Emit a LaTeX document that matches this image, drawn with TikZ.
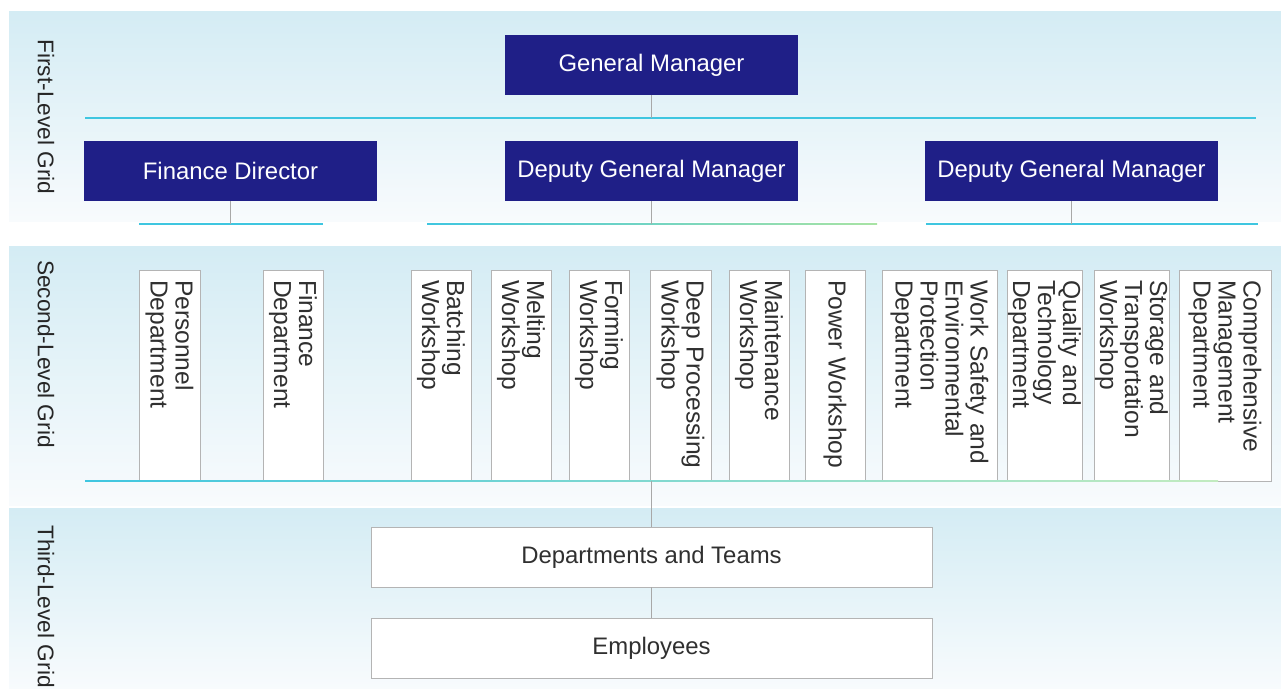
\documentclass[tikz,border=0pt]{standalone}
\usepackage{fontspec}
\setmainfont{Liberation Sans}
\definecolor{navy}{HTML}{1F1F87}
\definecolor{bandtop}{HTML}{D4ECF4}
\definecolor{bandbot}{HTML}{F8FBFD}
\definecolor{linecyan}{HTML}{3FC6E0}
\definecolor{linegreen}{HTML}{A8E3A4}
\definecolor{linkgrey}{HTML}{A8A8A8}
\definecolor{boxgrey}{HTML}{B4B4B4}
\definecolor{textgrey}{HTML}{303030}
\tikzset{
  band/.style={top color=bandtop, bottom color=bandbot, draw=none},
  gridlabel/.style={rotate=-90, text=black!85, font=\fontsize{12.9}{14}\selectfont},
  headbox/.style={fill=navy, text=white, minimum width=5.86cm, minimum height=1.2cm,
    inner sep=0pt, font=\fontsize{13.6}{16}\selectfont},
  unitbox/.style={draw=boxgrey, fill=white, rotate=-90, text=textgrey,
    minimum width=4.22cm, minimum height=#1, text width=3.82cm, inner xsep=0.2cm,
    inner ysep=0pt, align=left, font=\fontsize{14}{14.2}\selectfont},
  teambox/.style={draw=boxgrey, fill=white, text=textgrey, minimum width=11.22cm,
    minimum height=1.2cm, inner sep=0pt, font=\fontsize{13.6}{16}\selectfont},
  bus/.style={draw=linecyan, line width=0.8pt},
  link/.style={draw=linkgrey, line width=0.9pt}
}
\begin{document}
\begin{tikzpicture}[x=0.02cm,y=-0.02cm]
\useasboundingbox[fill=white] (0,0) rectangle (1281,689);

% bands
\shade[band] (9,12) rectangle (1281,222);
\shade[band] (9,247) rectangle (1281,505);
\shade[band] (9,508) rectangle (1281,689);

\node[gridlabel] (lab1) at (46,117) {First-Level Grid};
\node[gridlabel] (lab2) at (46,354) {Second-Level Grid};
\node[gridlabel, anchor=west] (lab3) at (46,519) {Third-Level Grid};

% first level
\node[headbox] (gm) at (651.5,65) {\raisebox{-2.5pt}{General Manager}};
\node[headbox] (fd) at (230.5,171) {Finance Director};
\node[headbox] (dgma) at (651.5,171) {\raisebox{-2.5pt}{Deputy General Manager}};
\node[headbox] (dgmb) at (1071.5,171) {Deputy General Manager};

\coordinate (bus1) at (85,118);
\coordinate (bus2) at (85,224);
\coordinate (bus3) at (85,481);
\draw[bus] (bus1) -- (1256,118);
\draw[bus] (139,224) -- (323,224);
\shade[left color=linecyan, right color=linegreen] (427,223.2) rectangle (877,224.8);
\draw[bus] (926,224) -- (1258,224);

\draw[link] (gm.south) -- (gm.south |- bus1);
\draw[link] (fd.south) -- (fd.south |- bus2);
\draw[link] (dgma.south) -- (dgma.south |- bus2);
\draw[link] (dgmb.south) -- (dgmb.south |- bus2);

% second level
\node[unitbox=1.22cm] (personnel) at (169.5,375.5) {Personnel\\Department};
\node[unitbox=1.2cm] (finance) at (293,375.5) {Finance\\Department};
\node[unitbox=1.2cm] (batching) at (441,375.5) {Batching\\Workshop};
\node[unitbox=1.2cm] (melting) at (521,375.5) {Melting\\Workshop};
\node[unitbox=1.2cm] (forming) at (599,375.5) {Forming\\Workshop};
\node[unitbox=1.22cm] (deep) at (680.5,375.5) {Deep Processing\\Workshop};
\node[unitbox=1.2cm] (maint) at (759,375.5) {Maintenance\\Workshop};
\node[unitbox=1.2cm] (power) at (835,375.5) {Power Workshop};
\node[unitbox=2.3cm] (safety) at (939.5,375.5) {Work Safety and\\Environmental\\Protection\\Department};
\node[unitbox=1.5cm] (quality) at (1044.5,375.5) {Quality and\\Technology\\Department};
\node[unitbox=1.5cm] (storage) at (1131.5,375.5) {Storage and\\Transportation\\Workshop};
\node[unitbox=1.84cm] (compre) at (1225,375.5) {Comprehensive\\Management\\Department};

\shade[left color=linecyan, right color=linegreen!70] (85,480.2) rectangle (1218,481.8);

% third level
\node[teambox] (teams) at (651.5,557) {Departments and Teams};
\node[teambox] (staff) at (651.5,648) {Employees};

\draw[link] (teams.north) -- (teams.north |- bus3);
\draw[link] (teams.south) -- (staff.north);
\end{tikzpicture}
\end{document}
